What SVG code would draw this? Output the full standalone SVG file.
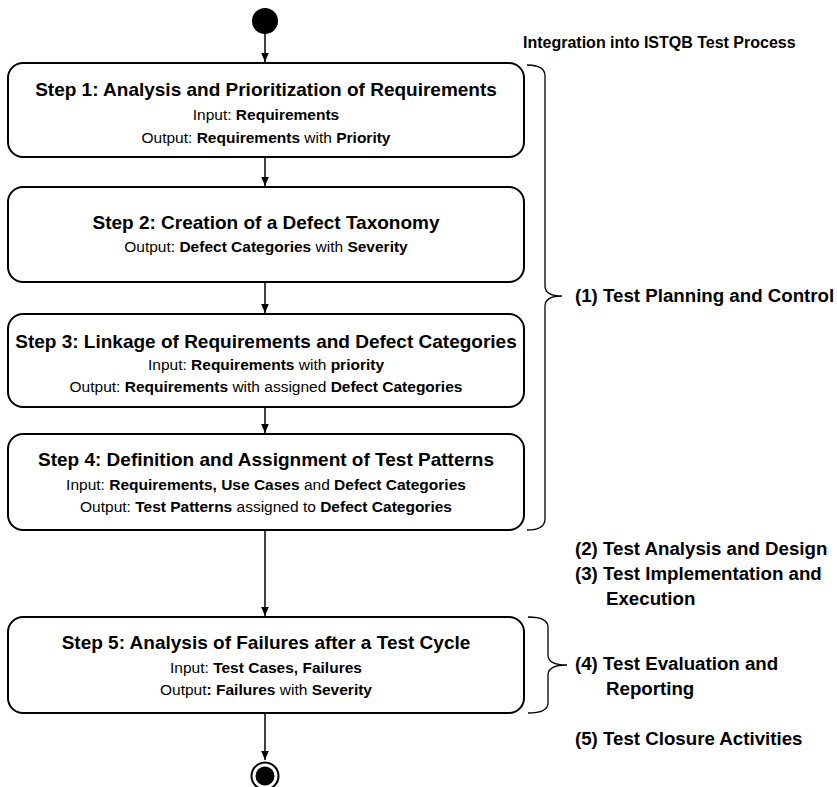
<svg xmlns="http://www.w3.org/2000/svg" width="837" height="787" viewBox="0 0 837 787">
  <style>
    text { font-family: "Liberation Sans", Arial, sans-serif; fill: #000; }
    .title { font-size: 19px; font-weight: bold; text-anchor: middle; }
    .sub { font-size: 15.5px; text-anchor: middle; }
    .b { font-weight: bold; }
    .lbl { font-size: 18.7px; font-weight: bold; }
    .head { font-size: 16px; font-weight: bold; }
    .box { fill: #fff; stroke: #000; stroke-width: 2; }
    .edge { fill: none; stroke: #000; stroke-width: 1.5; }
    .brace { fill: none; stroke: #000; stroke-width: 1.3; }
  </style>
  <defs>
    <marker id="arrow" markerWidth="10" markerHeight="10" refX="9" refY="5" orient="auto" markerUnits="userSpaceOnUse">
      <path d="M0,1.2 L9,5 L0,8.8 Z" fill="#000"/>
    </marker>
  </defs>
  <rect width="837" height="787" fill="#fff"/>

  <!-- start / end states -->
  <g id="start"><circle cx="265" cy="21" r="13" fill="#000"/></g>
  <g id="end">
    <circle cx="265" cy="776" r="13.5" fill="#fff" stroke="#000" stroke-width="2"/>
    <circle cx="265" cy="776" r="9.5" fill="#000"/>
  </g>

  <!-- connectors -->
  <g id="connectors">
    <line class="edge" x1="265" y1="33" x2="265" y2="62" marker-end="url(#arrow)"/>
    <line class="edge" x1="265" y1="157" x2="265" y2="186" marker-end="url(#arrow)"/>
    <line class="edge" x1="265" y1="282" x2="265" y2="313" marker-end="url(#arrow)"/>
    <line class="edge" x1="265" y1="407" x2="265" y2="433" marker-end="url(#arrow)"/>
    <line class="edge" x1="265" y1="530" x2="265" y2="616" marker-end="url(#arrow)"/>
    <line class="edge" x1="265" y1="713" x2="265" y2="760" marker-end="url(#arrow)"/>
  </g>

  <g id="step1">
    <rect class="box" x="8" y="63" width="516" height="94" rx="15"/>
    <text class="title" x="266" y="96">Step 1: Analysis and Prioritization of Requirements</text>
    <text class="sub" x="266" y="120">Input: <tspan class="b">Requirements</tspan></text>
    <text class="sub" x="266" y="143">Output: <tspan class="b">Requirements</tspan> with <tspan class="b">Priority</tspan></text>
  </g>

  <g id="step2">
    <rect class="box" x="8" y="187" width="516" height="95" rx="15"/>
    <text class="title" x="266" y="229">Step 2: Creation of a Defect Taxonomy</text>
    <text class="sub" x="266" y="252">Output: <tspan class="b">Defect Categories</tspan> with <tspan class="b">Severity</tspan></text>
  </g>

  <g id="step3">
    <rect class="box" x="8" y="314" width="516" height="93" rx="15"/>
    <text class="title" x="266" y="348">Step 3: Linkage of Requirements and Defect Categories</text>
    <text class="sub" x="266" y="370">Input: <tspan class="b">Requirements</tspan> with <tspan class="b">priority</tspan></text>
    <text class="sub" x="266" y="392">Output: <tspan class="b">Requirements</tspan> with assigned <tspan class="b">Defect Categories</tspan></text>
  </g>

  <g id="step4">
    <rect class="box" x="8" y="434" width="516" height="96" rx="15"/>
    <text class="title" x="266" y="466">Step 4: Definition and Assignment of Test Patterns</text>
    <text class="sub" x="266" y="490">Input: <tspan class="b">Requirements, Use Cases</tspan> and <tspan class="b">Defect Categories</tspan></text>
    <text class="sub" x="266" y="512">Output: <tspan class="b">Test Patterns</tspan> assigned to <tspan class="b">Defect Categories</tspan></text>
  </g>

  <g id="step5">
    <rect class="box" x="8" y="617" width="516" height="96" rx="15"/>
    <text class="title" x="266" y="649">Step 5: Analysis of Failures after a Test Cycle</text>
    <text class="sub" x="266" y="673">Input: <tspan class="b">Test Cases, Failures</tspan></text>
    <text class="sub" x="266" y="695">Output<tspan class="b">: Failures</tspan> with <tspan class="b">Severity</tspan></text>
  </g>

  <!-- ISTQB process phases -->
  <g id="istqb">
    <text class="head" x="523" y="48">Integration into ISTQB Test Process</text>
    <path class="brace" d="M527,65 Q545,65 545,76 L545,286 Q545,296 562,296 Q545,296 545,306 L545,519 Q545,530 527,530"/>
    <text class="lbl" x="575" y="302">(1) Test Planning and Control</text>
    <text class="lbl" x="575" y="555">(2) Test Analysis and Design</text>
    <text class="lbl" x="575" y="580">(3) Test Implementation and</text>
    <text class="lbl" x="606" y="605">Execution</text>
    <path class="brace" d="M528,617 Q548,617 548,627 L548,655 Q548,665 567,665 Q548,665 548,675 L548,703 Q548,713 528,713"/>
    <text class="lbl" x="575" y="670">(4) Test Evaluation and</text>
    <text class="lbl" x="606" y="695">Reporting</text>
    <text class="lbl" x="575" y="745">(5) Test Closure Activities</text>
  </g>
</svg>
